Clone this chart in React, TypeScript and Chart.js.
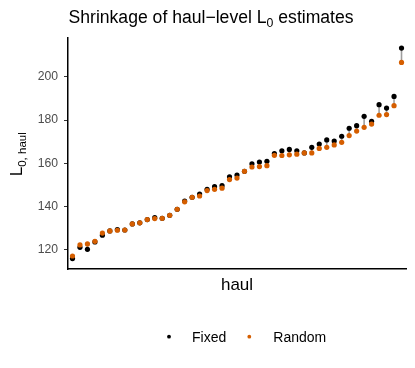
import React, { useEffect, useRef } from "react";
import { Chart, registerables } from "chart.js";

Chart.register(...registerables);

// Haul index (categories along x)
const hauls: number[] = Array.from({ length: 45 }, (_, i) => i + 1);

const fixedL0: number[] = [
  116.0, 121.2, 120.3, 123.7, 126.8, 128.8, 129.4, 129.2, 132.0, 132.5,
  134.0, 134.9, 134.6, 136.0, 138.8, 142.6, 144.3, 145.8, 148.0, 149.2,
  149.7, 153.8, 154.6, 156.3, 159.8, 160.6, 160.9, 164.5, 165.8, 166.4,
  165.8, 164.8, 167.4, 168.9, 170.8, 170.3, 172.5, 176.2, 177.4, 181.7,
  179.4, 187.1, 185.5, 190.9, 213.2,
];

const randomL0: number[] = [
  117.2, 122.3, 122.8, 124.0, 127.8, 128.8, 129.1, 129.2, 132.0, 132.5,
  134.0, 134.5, 134.6, 136.0, 138.8, 142.2, 144.3, 144.9, 147.4, 148.0,
  148.5, 152.5, 153.2, 156.3, 158.3, 158.5, 158.9, 163.7, 163.6, 163.9,
  164.2, 164.8, 164.8, 166.9, 167.4, 168.5, 169.7, 172.8, 174.9, 176.6,
  178.1, 182.2, 182.5, 186.6, 206.6,
];

const yTicks: number[] = [120, 140, 160, 180, 200];
const seriesNames: string[] = ["Fixed", "Random"];
const seriesColors: string[] = ["#000000", "#D55E00"];

const FONT = '"Liberation Sans", Arial, Helvetica, sans-serif';

const textPlugin = {
  id: "textPlugin",
  afterDraw(chart: any) {
    const ctx = chart.ctx as CanvasRenderingContext2D;
    const area = chart.chartArea;
    ctx.save();
    ctx.fillStyle = "#000";
    ctx.textBaseline = "alphabetic";
    ctx.textAlign = "left";

    // Title with subscript
    let x = area.left + 0.5;
    const ty = 23;
    ctx.font = `17.6px ${FONT}`;
    const t1 = "Shrinkage of haul\u2212level L";
    ctx.fillText(t1, x, ty);
    x += ctx.measureText(t1).width;
    ctx.font = `12.3px ${FONT}`;
    ctx.fillText("0", x, ty + 4);
    x += ctx.measureText("0").width;
    ctx.font = `17.6px ${FONT}`;
    ctx.fillText(" estimates", x, ty);

    // X title
    ctx.font = `17px ${FONT}`;
    ctx.textAlign = "center";
    ctx.fillText("haul", (area.left + area.right) / 2, 289.5);

    // Y title rotated with subscript
    ctx.textAlign = "left";
    const cy = (area.top + area.bottom) / 2 + 1;
    ctx.save();
    ctx.translate(22, cy);
    ctx.rotate(-Math.PI / 2);
    ctx.font = `17px ${FONT}`;
    const wL = ctx.measureText("L").width;
    ctx.font = `11.5px ${FONT}`;
    const sub = "0, haul";
    const wS = ctx.measureText(sub).width;
    const total = wL + wS;
    let rx = -total / 2;
    ctx.font = `17px ${FONT}`;
    ctx.fillText("L", rx, 0);
    rx += wL;
    ctx.font = `11.5px ${FONT}`;
    ctx.fillText(sub, rx, 4);
    ctx.restore();

    // Legend
    ctx.font = `14px ${FONT}`;
    ctx.textAlign = "left";
    const legendItems = [
      { dot: 169, text: 192 },
      { dot: 249.3, text: 273.3 },
    ];
    legendItems.forEach((p, i) => {
      ctx.fillStyle = seriesColors[i];
      ctx.beginPath();
      ctx.arc(p.dot, 336.7, 1.9, 0, Math.PI * 2);
      ctx.fill();
      ctx.fillStyle = "#000";
      ctx.fillText(seriesNames[i], p.text, 342);
    });
    ctx.restore();
  },
};

export default function App() {
  const ref = useRef<HTMLCanvasElement | null>(null);

  useEffect(() => {
    if (!ref.current) return;
    const segData: any[] = [];
    hauls.forEach((h, i) => {
      segData.push({ x: h, y: fixedL0[i] });
      segData.push({ x: h, y: randomL0[i] });
      segData.push({ x: h, y: null });
    });
    const chart = new Chart(ref.current, {
      type: "scatter",
      data: {
        datasets: [
          {
            label: "segments",
            data: segData,
            showLine: true,
            spanGaps: false,
            borderColor: "#9e9e9e",
            borderWidth: 1.6,
            pointRadius: 0,
            order: 3,
          } as any,
          {
            label: seriesNames[0],
            data: hauls.map((h, i) => ({ x: h, y: fixedL0[i] })),
            backgroundColor: seriesColors[0],
            borderWidth: 0,
            pointRadius: 2.6,
            order: 2,
          },
          {
            label: seriesNames[1],
            data: hauls.map((h, i) => ({ x: h, y: randomL0[i] })),
            backgroundColor: seriesColors[1],
            borderWidth: 0,
            pointRadius: 2.6,
            order: 1,
          },
        ],
      },
      options: {
        responsive: false,
        animation: false,
        events: [],
        layout: { padding: { top: 37.5, left: 0, right: 9, bottom: 99 } },
        plugins: {
          legend: { display: false },
          tooltip: { enabled: false },
          title: { display: false },
        },
        scales: {
          x: {
            type: "linear",
            min: 0.4,
            max: hauls.length + 0.6,
            ticks: { display: false },
            grid: { display: true, drawOnChartArea: false, drawTicks: false },
            border: { display: true, color: "#000", width: 1.5 },
            afterFit: (s: any) => {
              s.height = 0;
            },
          },
          y: {
            type: "linear",
            min: 111.2,
            max: 218.1,
            afterBuildTicks: (s: any) => {
              s.ticks = yTicks.map((v) => ({ value: v }));
            },
            ticks: {
              color: "#4D4D4D",
              font: { family: FONT, size: 12.2 },
              padding: 6,
            },
            grid: {
              display: true,
              drawOnChartArea: false,
              drawTicks: true,
              tickLength: 4,
              tickColor: "#333",
              tickWidth: 1,
            },
            border: { display: true, color: "#000", width: 1.5 },
            afterFit: (s: any) => {
              s.width = 68;
            },
          },
        },
      },
      plugins: [textPlugin],
    });
    return () => chart.destroy();
  }, []);

  return (
    <div style={{ position: "fixed", left: 0, top: 0, width: 415, height: 368, background: "#fff" }}>
      <canvas ref={ref} width={415} height={368} style={{ display: "block" }} />
    </div>
  );
}
